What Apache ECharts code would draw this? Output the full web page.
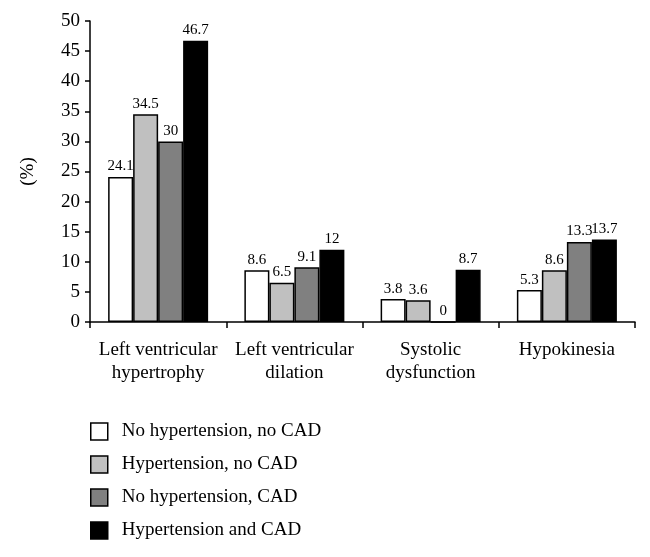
<!DOCTYPE html>
<html style="height: 100%">
<head>
<meta charset="utf-8">
<script src="https://cdn.jsdelivr.net/npm/echarts@6/dist/echarts.min.js"></script>
</head>
<body style="height: 100%; margin: 0; background: #fff">
<div id="container" style="width: 650px; height: 557px"></div>
<script type="text/javascript">
var categories = ['Left ventricular\nhypertrophy', 'Left ventricular\ndilation', 'Systolic\ndysfunction', 'Hypokinesia'];
var seriesNames = ['No hypertension, no CAD', 'Hypertension, no CAD', 'No hypertension, CAD', 'Hypertension and CAD'];
var noHtnNoCad = [24.1, 8.6, 3.8, 5.3];
var htnNoCad = [34.5, 6.5, 3.6, 8.6];
var noHtnCad = [30, 9.1, 0, 13.3];
var htnCad = [46.7, 12, 8.7, 13.7];
var colors = ['#ffffff', '#c0c0c0', '#808080', '#000000'];

var font = 'Liberation Serif';
var myChart = echarts.init(document.getElementById('container'));

var allData = [noHtnNoCad, htnNoCad, noHtnCad, htnCad];
var series = [];
for (var i = 0; i < allData.length; i++) {
    series.push({
        name: seriesNames[i],
        type: 'bar',
        data: allData[i],
        barWidth: 25,
        barGap: '0%',
        itemStyle: {
            color: colors[i],
            borderColor: '#000',
            borderWidth: 1.5
        },
        label: {
            show: true,
            position: 'top',
            distance: 3,
            color: '#000',
            fontFamily: font,
            fontSize: 15
        }
    });
}

var option = {
    animation: false,
    backgroundColor: '#fff',
    grid: {
        left: 90,
        right: 15,
        top: 21,
        bottom: 235
    },
    legend: {
        orient: 'vertical',
        left: 85,
        top: 417,
        itemWidth: 17,
        itemHeight: 17,
        itemGap: 14,
        icon: 'rect',
        data: seriesNames,
        itemStyle: {
            borderColor: '#000',
            borderWidth: 1.5
        },
        textStyle: {
            fontFamily: font,
            fontSize: 19,
            color: '#000',
            padding: [0, 0, 0, 9]
        }
    },
    xAxis: {
        type: 'category',
        data: categories,
        axisLine: { lineStyle: { color: '#000', width: 1.5 } },
        axisTick: { show: true, length: 6, lineStyle: { color: '#000', width: 1.5 } },
        axisLabel: {
            color: '#000',
            fontFamily: font,
            fontSize: 19,
            lineHeight: 23,
            margin: 17,
            interval: 0
        }
    },
    yAxis: {
        type: 'value',
        min: 0,
        max: 50,
        interval: 5,
        name: '(%)',
        nameLocation: 'middle',
        nameGap: 52,
        nameRotate: 90,
        nameTextStyle: {
            color: '#000',
            fontFamily: font,
            fontSize: 19
        },
        axisLine: { show: true, lineStyle: { color: '#000', width: 1.5 } },
        axisTick: { show: true, length: 5, lineStyle: { color: '#000', width: 1.5 } },
        splitLine: { show: false },
        axisLabel: {
            color: '#000',
            fontFamily: font,
            fontSize: 19,
            margin: 10
        }
    },
    series: series
};

myChart.setOption(option);
</script>
</body>
</html>
